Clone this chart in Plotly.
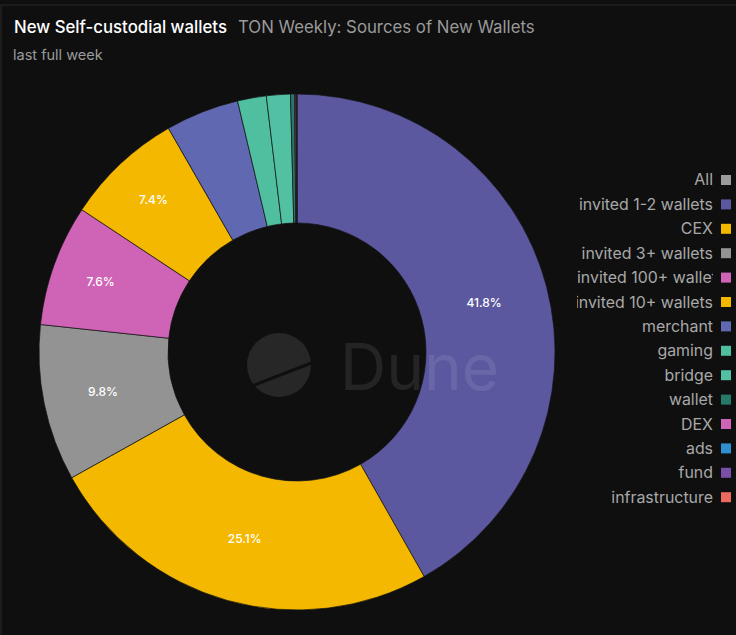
import plotly.graph_objects as go

W, H = 736, 635

# slices, clockwise from 12 o'clock
labels = ["All", "invited 1-2 wallets", "CEX", "invited 3+ wallets", "invited 100+ wallets",
          "invited 10+ wallets", "merchant", "gaming", "bridge", "wallet", "DEX", "ads",
          "fund", "infrastructure"]
values = [0, 41.8, 25.1, 9.8, 7.6, 7.4, 4.6, 1.8, 1.5, 0.25, 0.08, 0.03, 0.02, 0.02]
colors = ["#9a9a9a", "#5b589f", "#f4b800", "#939393", "#cf63b5", "#f4b800", "#6068b2",
          "#50bf9f", "#52c1a3", "#267a6a", "#cf63b5", "#2f8fcf", "#7a4fa8", "#ec6a5e"]

total = sum(values)
pct_text = ["%.1f%%" % (v / total * 100) if v / total >= 0.05 else "" for v in values]


def px(x):
    return x / W


def py(y):
    return 1 - y / H


cx, cy, r = 297, 352, 258

fig = go.Figure(go.Pie(
    labels=labels, values=values, sort=False, direction="clockwise", rotation=0,
    hole=0.5, text=pct_text, textinfo="text", textposition="inside",
    insidetextorientation="horizontal",
    textfont=dict(family="Inter", size=12, color="#ffffff", weight=500),
    marker=dict(colors=colors, line=dict(color="rgba(20,20,20,0.7)", width=1)),
    domain=dict(x=[px(cx - r), px(cx + r)], y=[py(cy + r), py(cy - r)]),
    showlegend=False, hoverinfo="label+percent",
))

annotations = [
    dict(x=px(12), y=py(27), text="New Self-custodial wallets", showarrow=False,
         xanchor="left", yanchor="middle",
         font=dict(family="Inter", size=16.8, color="#ffffff", weight=500)),
    dict(x=px(236), y=py(27), text="TON Weekly: Sources of New Wallets", showarrow=False,
         xanchor="left", yanchor="middle", font=dict(family="Inter", size=16.8, color="#9a9a9a")),
    dict(x=px(11), y=py(55), text="last full week", showarrow=False,
         xanchor="left", yanchor="middle", font=dict(family="Inter", size=14.5, color="#9a9a9a")),
    dict(x=px(338), y=py(367), text="Dune", showarrow=False, xanchor="left", yanchor="middle",
         font=dict(family="Inter", size=64, color="rgba(255,255,255,0.09)")),
]

shapes = [
    dict(type="line", xref="paper", yref="paper", x0=px(1), x1=px(736), y0=py(5), y1=py(5),
         line=dict(color="#2b2b2b", width=1)),
    dict(type="line", xref="paper", yref="paper", x0=px(1), x1=px(1), y0=py(5), y1=py(635),
         line=dict(color="#2b2b2b", width=1)),
    dict(type="circle", xref="paper", yref="paper", x0=px(247), x1=px(311), y0=py(397), y1=py(333),
         fillcolor="rgba(255,255,255,0.1)", line=dict(width=0)),
    dict(type="line", xref="paper", yref="paper", x0=px(252), x1=px(314), y0=py(386), y1=py(362),
         line=dict(color="#0f0f0f", width=3)),
]

# legend drawn on the right, text right-aligned with the swatch after it
for i, name in enumerate(labels):
    yy = 180 + i * 24.4
    annotations.append(dict(
        x=px(715), y=py(yy), text=name, showarrow=False, xanchor="right", yanchor="middle",
        width=136, align="left" if name.startswith("invited 100+") else "right",
        font=dict(family="Inter", size=15.9, color="#a8a8a8")))
    shapes.append(dict(type="rect", xref="paper", yref="paper",
                       x0=px(721), x1=px(731), y0=py(yy + 5), y1=py(yy - 5),
                       fillcolor=colors[i], line=dict(width=0)))

fig.update_layout(
    width=W, height=H, margin=dict(l=0, r=0, t=0, b=0),
    paper_bgcolor="#0f0f0f", plot_bgcolor="#0f0f0f",
    annotations=annotations, shapes=shapes,
)

fig.write_html("out.html", config={"displayModeBar": False},
               post_script="document.body.style.margin='0';")
